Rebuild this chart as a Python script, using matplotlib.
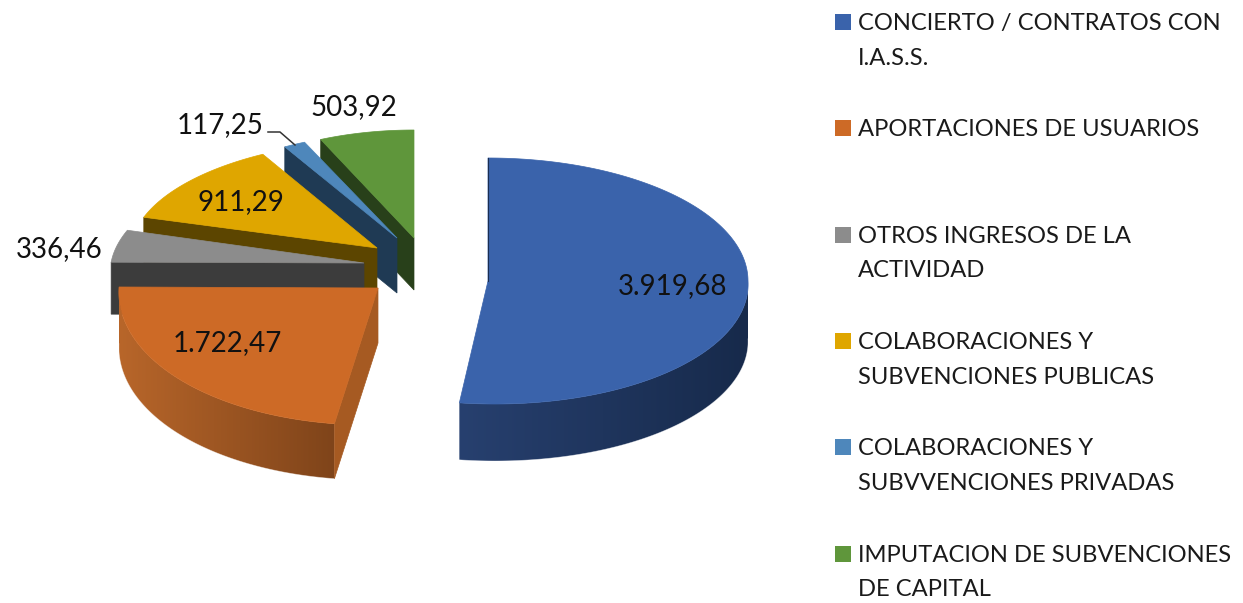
import numpy as np
import matplotlib
matplotlib.use( "Agg" )
import matplotlib.pyplot as plt
from matplotlib.colors import to_rgb
from matplotlib.patches import Polygon, Rectangle

plt.rcParams['font.family'] = ['Lato', 'DejaVu Sans']

categories = [ "CONCIERTO / CONTRATOS CON\nI.A.S.S.",
               "APORTACIONES DE USUARIOS",
               "OTROS INGRESOS DE LA\nACTIVIDAD",
               "COLABORACIONES Y\nSUBVENCIONES PUBLICAS",
               "COLABORACIONES Y\nSUBVVENCIONES PRIVADAS",
               "IMPUTACION DE SUBVENCIONES\nDE CAPITAL" ]
values = [ 3919.68, 1722.47, 336.46, 911.29, 117.25, 503.92 ]
value_labels = [ "3.919,68", "1.722,47", "336,46", "911,29", "117,25", "503,92" ]

# colours
top_c = [ "#3a63ab", "#cd6a26", "#8c8c8c", "#dfa600", "#4e87bb", "#5f963b" ]
wall_l = [ "#27406f", "#b8662a" ]
wall_r = [ "#172a4b", "#7f441a" ]
face_c = [ "#1a2d50", "#a65a22", "#3c3c3c", "#5c4500", "#1f3a54", "#28401a" ]

# exploded layout in pixels: apex x, apex y, radius x, radius y, depth
cx_l = [ 488, 378, 364, 377, 397, 414 ]
cy_l = [ 281, 288, 263, 248, 238, 238 ]
ax_l = [ 260, 259, 253, 246, 226, 228 ]
by_l = [ 123, 137, 115, 108, 105, 108 ]
dep_l = [ 57, 55, 52, 52, 55, 52 ]
# fake perspective, rim x moves with rim y
shear_l = [ 0.057, -0.06, -0.18, -0.085, 0.0, 0.0 ]

# position of value labels
lab_x = [ 673, 227, 59, 241, 220, 354 ]
lab_y = [ 286, 343, 249, 202, 125, 107 ]

fig = plt.figure( figsize=( 12.43, 6.03 ), dpi=100 )
ax = fig.add_axes( [ 0, 0, 1, 1 ] )
ax.axis( "off" )

frac = np.array( values ) / np.sum( values )
edges = np.concatenate( [ [ 0.0 ], np.cumsum( frac ) ] ) * 2.0 * np.pi


def rim( i, th ):
    dy = -by_l[i] * np.cos( th )
    if i == 0:
        sh = shear_l[i] * np.clip( dy, 0, None )
    else:
        sh = shear_l[i] * dy
    return ( cx_l[i] + ax_l[i] * np.sin( th ) + sh, cy_l[i] + dy )


def draw_wall( i, x, y, dep, zo ):
    # gradient along x, clipped to the wall outline
    grad = np.linspace( to_rgb( wall_l[i] ), to_rgb( wall_r[i] ), 256 )[np.newaxis, :, :]
    px = np.r_[ x, x[::-1] ]
    py = np.r_[ y, y[::-1] + dep ]
    im = ax.imshow( grad, extent=( x.min(), x.max(), py.max(), py.min() ),
                    aspect="auto", interpolation="bilinear", zorder=zo )
    clip = Polygon( np.column_stack( [ px, py ] ), transform=ax.transData )
    im.set_clip_path( clip )
    # soft outer edge, the clip alone is jagged
    ax.plot( x, y + dep, color="#ffffff", lw=0.5, alpha=0.5, zorder=zo + 0.1 )


# back slices first, the blue one is free standing
for i in [ 5, 4, 3, 2, 1, 0 ]:
    th = np.linspace( edges[i], edges[i+1], 240 )
    x, y = rim( i, th )
    dep = dep_l[i]
    zo = 10 - i

    # outer wall only where the rim looks at the viewer
    if i < 2:
        front = np.cos( th ) <= 0
        draw_wall( i, x[front], y[front], dep, zo )

    # cut face, seen only on the start edge
    if i != 0:
        ax.add_patch( Polygon( [ ( cx_l[i], cy_l[i] ), ( x[0], y[0] ),
                                 ( x[0], y[0] + dep ), ( cx_l[i], cy_l[i] + dep ) ],
                               fc=face_c[i], ec=face_c[i], lw=0.5, zorder=zo + 0.2 ) )
    else:
        ax.plot( [ x[0], cx_l[i] ], [ y[0], cy_l[i] ], color=face_c[i], lw=0.8, zorder=zo + 0.6 )

    ax.add_patch( Polygon( np.column_stack( [ np.r_[ cx_l[i], x ], np.r_[ cy_l[i], y ] ] ),
                           fc=top_c[i], ec=top_c[i], lw=0.5, zorder=zo + 0.5 ) )

for i in range( len( values ) ):
    ax.text( lab_x[i], lab_y[i], value_labels[i], fontsize=20, color="#111111",
             ha="center", va="center", zorder=20 )

# leader line of the small slice
ax.plot( [ 268, 280, 295 ], [ 132, 132, 145 ], color="#333333", lw=1.1, zorder=20 )

# legend
for i in range( len( categories ) ):
    ly = 22 + 106.3 * i
    ax.add_patch( Rectangle( ( 835, ly - 8 ), 16, 16, fc=top_c[i], ec="none", zorder=20 ) )
    ax.text( 858, ly - 9, categories[i], fontsize=17.1, color="#1a1a1a",
             ha="left", va="top", linespacing=1.8, zorder=20 )

ax.set_xlim( 0, 1243 )
ax.set_ylim( 603, 0 )

fig.savefig( "out.png", dpi=100 )
